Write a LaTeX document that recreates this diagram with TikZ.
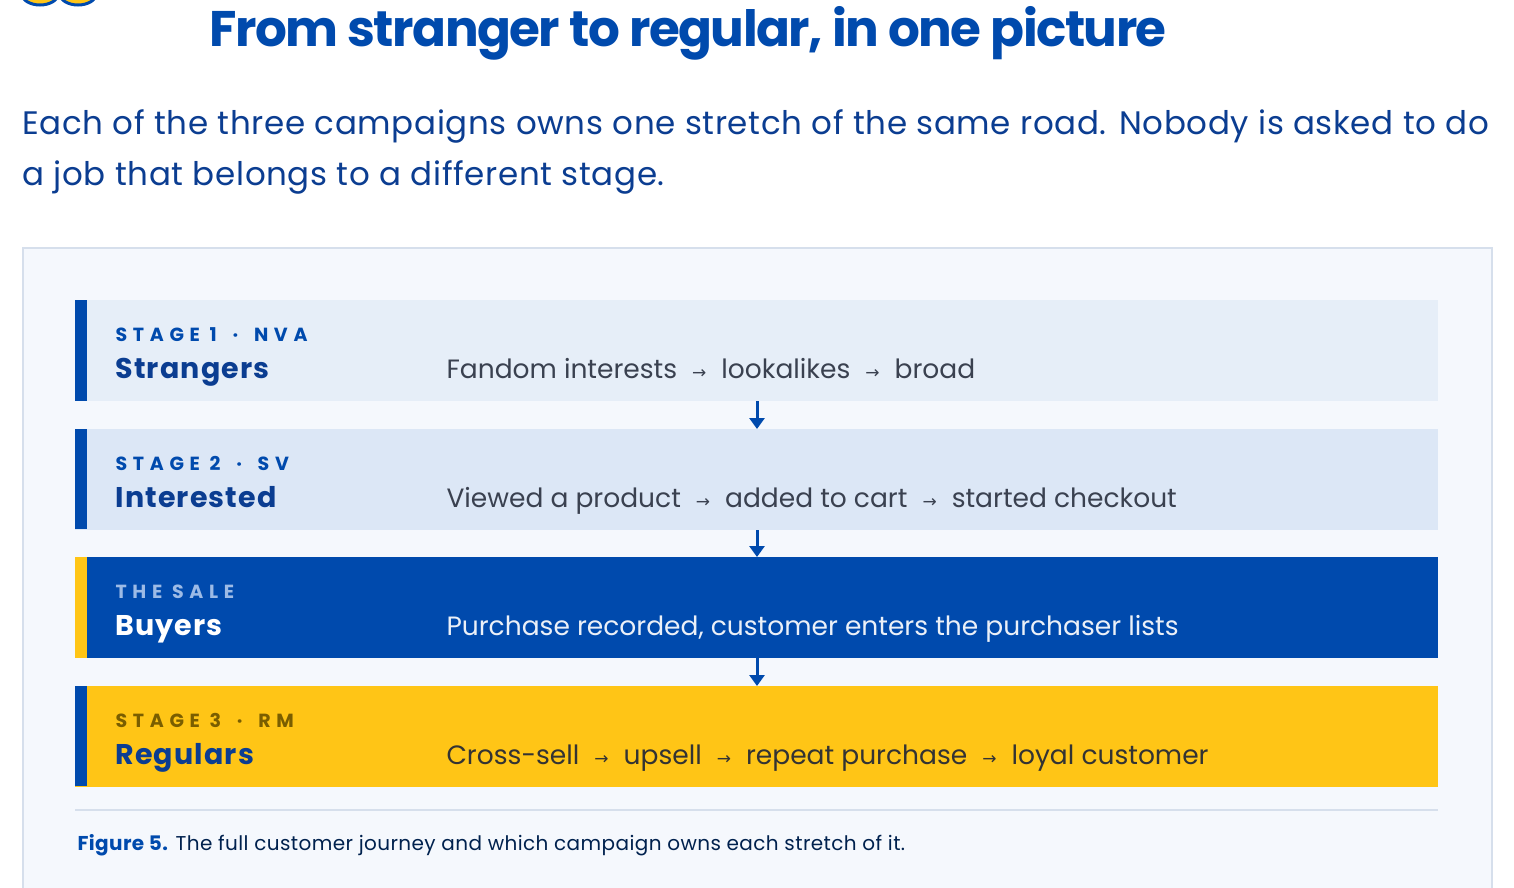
\documentclass[tikz,border=0pt]{standalone}
\usepackage{fontspec}
\setmainfont{Poppins}
\newfontfamily\arrfont{DejaVu Sans}
\newcommand{\ra}{\hspace{15pt}{\arrfont\fontsize{17}{17}\selectfont →}\hspace{15pt}}
\usetikzlibrary{arrows.meta}
\definecolor{navy}{HTML}{0B3D91}
\definecolor{royal}{HTML}{004AAD}
\definecolor{gold}{HTML}{FFC516}
\definecolor{panel}{HTML}{F5F8FD}
\definecolor{pborder}{HTML}{D6DFEC}
\definecolor{rowa}{HTML}{E6EEF8}
\definecolor{rowb}{HTML}{DCE7F6}
\definecolor{txt}{HTML}{3A4150}
\definecolor{olive}{HTML}{7A5E00}
\definecolor{pale}{HTML}{9DBBE6}
\begin{document}
\begin{tikzpicture}[x=1pt,y=-1pt,
  row/.style={minimum width=1363pt,minimum height=101pt,inner sep=0pt,anchor=north west},
  lbl/.style={anchor=base west,font=\fontsize{19}{19}\selectfont\bfseries\addfontfeatures{LetterSpace=30}},
  nm/.style={anchor=base west,font=\fontsize{28.5}{28}\selectfont\bfseries\addfontfeatures{LetterSpace=4}},
  ds/.style={anchor=base west,font=\fontsize{26.5}{27}\selectfont,text=txt},
  arr/.style={draw=royal,line width=3pt,-{Triangle[length=11pt,width=15pt]}}]
\useasboundingbox (0,0) rectangle (1514,887);
\fill[white] (0,0) rectangle (1514,887);
% eyes
\draw[royal,line width=3pt,fill=gold] (40,-6) ellipse (18 and 11);
\draw[royal,line width=3pt,fill=gold] (78,-6) ellipse (18 and 11);
\node[font=\fontsize{50}{50}\selectfont\bfseries\addfontfeatures{LetterSpace=-3},text=royal] (title) at (688,33) {From stranger to regular, in one picture};
\node[anchor=base west,font=\fontsize{32.5}{32}\selectfont\addfontfeatures{LetterSpace=2},text=navy] (sub1) at (19,134) {Each of the three campaigns owns one stretch of the same road. Nobody is asked to do};
\node[anchor=base west,font=\fontsize{32.5}{32}\selectfont\addfontfeatures{LetterSpace=2},text=navy] (sub2) at (19,185) {a job that belongs to a different stage.};
\draw[pborder,line width=2pt,fill=panel] (23,248) rectangle (1492,900);
% rows
\node[row,fill=rowa] (r1) at (75,300) {};
\node[row,fill=rowb] (r2) at (75,429) {};
\node[row,fill=royal] (r3) at (75,557) {};
\node[row,fill=gold] (r4) at (75,686) {};
\fill[royal] (75,300) rectangle (87,401);
\fill[royal] (75,429) rectangle (87,529);
\fill[gold] (75,557) rectangle (87,658);
\fill[royal] (75,686) rectangle (87,786);
% text rows
\node[lbl,text=royal] (l1) at (112,341) {STAGE 1 \hspace{6pt}·\hspace{6pt} NVA};
\node[nm,text=navy] (n1) at (112,378) {Strangers};
\node[ds] (d1) at (443,378) {Fandom interests\ra lookalikes\ra broad};
\node[lbl,text=royal] (l2) at (112,470) {STAGE 2 \hspace{6pt}·\hspace{6pt} SV};
\node[nm,text=navy] (n2) at (112,507) {Interested};
\node[ds] (d2) at (443,507) {Viewed a product\ra added to cart\ra started checkout};
\node[lbl,text=pale] (l3) at (112,598) {THE SALE};
\node[nm,text=white] (n3) at (112,635) {Buyers};
\node[ds,text=white!92!royal] (d3) at (443,635) {Purchase recorded, customer enters the purchaser lists};
\node[lbl,text=olive] (l4) at (112,727) {STAGE 3 \hspace{6pt}·\hspace{6pt} RM};
\node[nm,text=navy] (n4) at (112,764) {Regulars};
\node[ds,text=black!80] (d4) at (443,764) {Cross-sell\ra upsell\ra repeat purchase\ra loyal customer};
% arrows
\draw[arr] (r1.south -| 757,0) -- (r2.north -| 757,0);
\draw[arr] (r2.south -| 757,0) -- (r3.north -| 757,0);
\draw[arr] (r3.south -| 757,0) -- (r4.north -| 757,0);
\draw[pborder,line width=2pt] (75,810) -- (1438,810);
\node[anchor=base west,font=\fontsize{20}{20}\selectfont\addfontfeatures{LetterSpace=2},text=black!55!royal] (cap) at (74,850) {{\bfseries\color{royal}Figure 5.} The full customer journey and which campaign owns each stretch of it.};
\end{tikzpicture}
\end{document}
